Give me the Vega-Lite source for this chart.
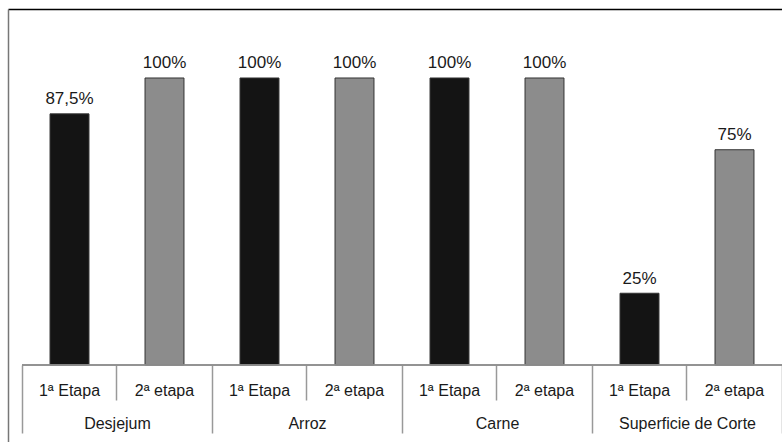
{
  "$schema": "https://vega.github.io/schema/vega-lite/v6.json",
  "width": 774,
  "height": 433,
  "padding": {"left": 8, "top": 9, "right": 0, "bottom": 0},
  "autosize": {"type": "none"},
  "background": "white",
  "config": {
    "view": {"stroke": null},
    "locale": {
      "number": {"decimal": ",", "thousands": ".", "grouping": [3], "currency": ["R$", ""]}
    },
    "font": "Liberation Sans",
    "text": {"font": "Liberation Sans", "color": "#1a1a1a"}
  },
  "data": {
    "values": [
      {"grupo": "Desjejum", "etapa": "1ª Etapa", "valor": 0.875},
      {"grupo": "Desjejum", "etapa": "2ª etapa", "valor": 1.0},
      {"grupo": "Arroz", "etapa": "1ª Etapa", "valor": 1.0},
      {"grupo": "Arroz", "etapa": "2ª etapa", "valor": 1.0},
      {"grupo": "Carne", "etapa": "1ª Etapa", "valor": 1.0},
      {"grupo": "Carne", "etapa": "2ª etapa", "valor": 1.0},
      {"grupo": "Superficie de Corte", "etapa": "1ª Etapa", "valor": 0.25},
      {"grupo": "Superficie de Corte", "etapa": "2ª etapa", "valor": 0.75}
    ]
  },
  "resolve": {"axis": {"x": "independent", "y": "independent"}},
  "layer": [
    {
      "mark": {"type": "bar", "stroke": "#333333", "strokeWidth": 1},
      "encoding": {
        "x": {
          "field": "grupo", "type": "nominal", "sort": null,
          "scale": {"paddingInner": 0, "paddingOuter": 0.03684, "align": 1},
          "axis": {
            "orient": "bottom", "offset": -77, "title": null, "grid": false,
            "domain": false, "tickBand": "extent", "tickSize": 68,
            "tickColor": "#999999", "tickWidth": 1.5,
            "labelAngle": 0, "labelFont": "Liberation Sans", "labelFontSize": 16,
            "labelColor": "#1a1a1a", "labelBaseline": "alphabetic", "labelPadding": -4.7
          }
        },
        "xOffset": {
          "field": "etapa", "type": "nominal",
          "scale": {"paddingInner": 0.59, "paddingOuter": 0.295}
        },
        "y": {
          "field": "valor", "type": "quantitative",
          "scale": {"domain": [-0.2683, 1.2404], "nice": false, "zero": false},
          "axis": {
            "orient": "left", "title": null, "grid": false, "ticks": false, "labels": false,
            "domain": true, "domainColor": "#777777", "domainWidth": 1.5
          }
        },
        "y2": {"datum": 0},
        "color": {
          "field": "etapa", "type": "nominal",
          "scale": {"domain": ["1ª Etapa", "2ª etapa"], "range": ["#141414", "#8c8c8c"]},
          "legend": null
        }
      }
    },
    {
      "mark": {"type": "text", "baseline": "alphabetic", "dy": -9.5, "fontSize": 17},
      "encoding": {
        "x": {
          "field": "grupo", "type": "nominal", "sort": null,
          "axis": {
            "orient": "top", "title": null, "grid": false, "ticks": false, "labels": false,
            "domain": true, "domainColor": "#000000", "domainWidth": 1.5
          }
        },
        "xOffset": {"field": "etapa", "type": "nominal"},
        "y": {"field": "valor", "type": "quantitative", "axis": null},
        "text": {"field": "valor", "type": "quantitative", "format": ".1~%"}
      }
    },
    {
      "mark": {"type": "text", "baseline": "alphabetic", "dy": 30.7, "fontSize": 16},
      "encoding": {
        "x": {
          "field": "grupo", "type": "nominal", "sort": null,
          "axis": {
            "orient": "bottom", "offset": -77, "title": null, "grid": false,
            "domain": false, "labels": false, "tickBand": "center", "tickSize": 35,
            "tickColor": "#999999", "tickWidth": 1.5
          }
        },
        "xOffset": {"field": "etapa", "type": "nominal"},
        "y": {"datum": 0, "axis": null},
        "text": {"field": "etapa", "type": "nominal"}
      }
    },
    {
      "mark": {"type": "rect", "fill": null, "stroke": "#8c8c8c", "strokeWidth": 1.5},
      "encoding": {
        "x": {"field": "grupo", "type": "nominal", "sort": null, "axis": null},
        "y": {"datum": 0, "axis": null},
        "y2": {"datum": 0}
      }
    }
  ]
}
